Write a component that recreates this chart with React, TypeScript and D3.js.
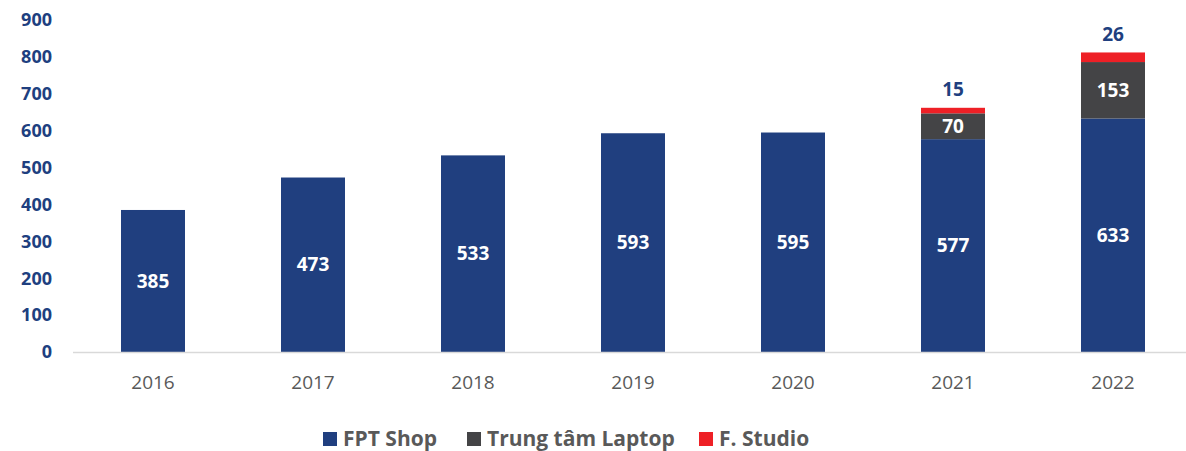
import * as d3 from "d3";
import React, { useEffect, useRef } from "react";

const years = ["2016", "2017", "2018", "2019", "2020", "2021", "2022"];
const fptShop = [385, 473, 533, 593, 595, 577, 633];
const laptop = [0, 0, 0, 0, 0, 70, 153];
const studio = [0, 0, 0, 0, 0, 15, 26];
const yTicks = [0, 100, 200, 300, 400, 500, 600, 700, 800, 900];

const seriesNames = ["FPT Shop", "Trung tâm Laptop", "F. Studio"];
const colors = ["#203F7F", "#444446", "#EE2026"];

const W = 1186;
const H = 451;
const FONT = "'Open Sans', 'Noto Sans', sans-serif";

const App: React.FC = () => {
  const svgRef = useRef<SVGSVGElement>(null);

  useEffect(() => {
    const svg = d3.select(svgRef.current);
    svg.selectAll("*").remove();

    const x = d3
      .scaleBand<string>()
      .domain(years)
      .range([73, 1193])
      .paddingInner(0.6)
      .paddingOuter(0.3);
    const y = d3.scaleLinear().domain([0, 900]).range([352, 20]);

    // y tick labels
    svg
      .append("g")
      .selectAll("text")
      .data(yTicks)
      .enter()
      .append("text")
      .attr("x", 52)
      .attr("y", (d) => y(d))
      .attr("dy", "0.35em")
      .attr("text-anchor", "end")
      .attr("font-family", FONT)
      .attr("font-weight", "bold")
      .attr("font-size", 18)
      .attr("fill", "#203F7F")
      .text((d) => d);

    const rows = years.map((yr, i) => ({
      year: yr,
      s0: fptShop[i],
      s1: laptop[i],
      s2: studio[i],
    }));
    const stack = d3.stack<any>().keys(["s0", "s1", "s2"])(rows);

    stack.forEach((layer, li) => {
      const g = svg.append("g");
      layer.forEach((seg, i) => {
        const v = seg[1] - seg[0];
        if (v <= 0) return;
        const yr = years[i];
        g.append("rect")
          .attr("x", x(yr)!)
          .attr("width", x.bandwidth())
          .attr("y", y(seg[1]))
          .attr("height", y(seg[0]) - y(seg[1]))
          .attr("fill", colors[li]);
        const inside = li < 2;
        g.append("text")
          .attr("x", x(yr)! + x.bandwidth() / 2)
          .attr("y", inside ? (y(seg[0]) + y(seg[1])) / 2 : y(seg[1]) - 18)
          .attr("dy", "0.35em")
          .attr("text-anchor", "middle")
          .attr("font-family", FONT)
          .attr("font-weight", "bold")
          .attr("font-size", 19)
          .attr("fill", inside ? "#ffffff" : "#203F7F")
          .text(v);
      });
    });

    // baseline
    svg
      .append("line")
      .attr("x1", 73)
      .attr("x2", 1186)
      .attr("y1", y(0) + 0.5)
      .attr("y2", y(0) + 0.5)
      .attr("stroke", "#D9D9D9")
      .attr("stroke-width", 1.5);

    // x labels
    svg
      .append("g")
      .selectAll("text")
      .data(years)
      .enter()
      .append("text")
      .attr("x", (d) => x(d)! + x.bandwidth() / 2)
      .attr("y", 382)
      .attr("dy", "0.35em")
      .attr("text-anchor", "middle")
      .attr("font-family", FONT)
      .attr("font-size", 19)
      .attr("fill", "#595959")
      .text((d) => d);

    // legend
    const legendX = [323, 467, 699];
    const lg = svg.append("g");
    seriesNames.forEach((name, i) => {
      lg.append("rect")
        .attr("x", legendX[i])
        .attr("y", 432)
        .attr("width", 14)
        .attr("height", 14)
        .attr("fill", colors[i]);
      lg.append("text")
        .attr("x", legendX[i] + 20)
        .attr("y", 439)
        .attr("dy", "0.35em")
        .attr("font-family", FONT)
        .attr("font-weight", "bold")
        .attr("font-size", 21)
        .attr("fill", "#595959")
        .text(name);
    });
  }, []);

  return (
    <svg
      ref={svgRef}
      width={W}
      height={H}
      style={{ position: "absolute", left: 0, top: 0, background: "#fff" }}
    />
  );
};

export default App;
